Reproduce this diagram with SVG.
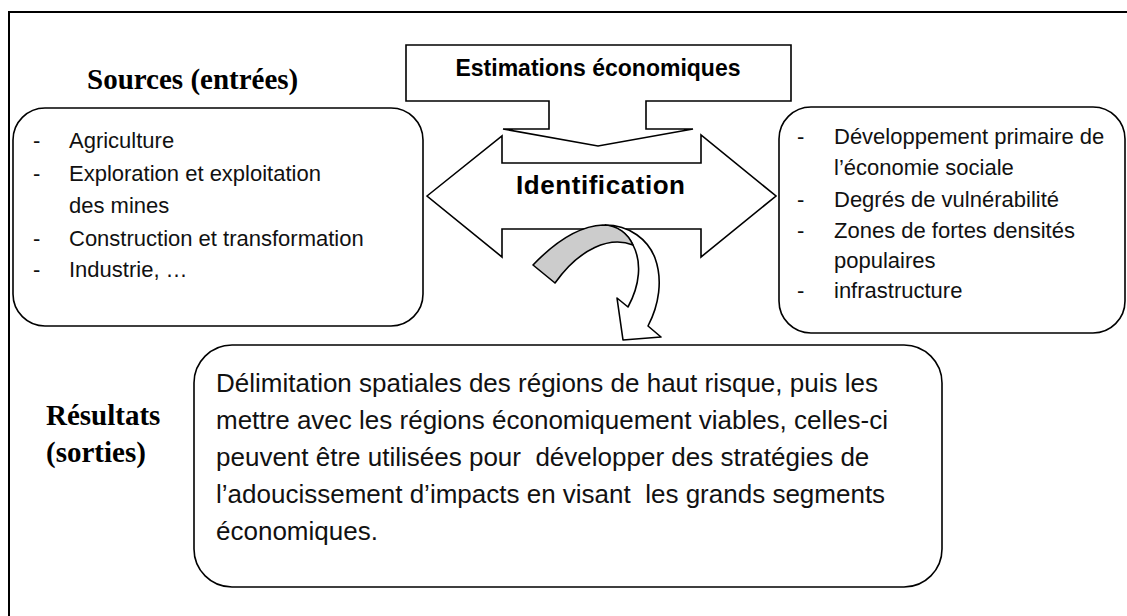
<svg xmlns="http://www.w3.org/2000/svg" width="1127" height="616" viewBox="0 0 1127 616">
<style>
.ln{fill:#fff;stroke:#000;stroke-width:1.6}
.t{font-family:"Liberation Sans",Arial,sans-serif;font-size:22px;fill:#111}
.tb{font-family:"Liberation Sans",Arial,sans-serif;font-weight:bold;fill:#000}
.ts{font-family:"Liberation Serif","Times New Roman",serif;font-weight:bold;font-size:29px;fill:#000}
.tl{font-family:"Liberation Sans",Arial,sans-serif;font-size:26px;fill:#111}
</style>
<rect id="frame" x="9" y="12" width="1130" height="620" fill="#fff" stroke="#000" stroke-width="2"/>

<g id="title-sources"><text class="ts" x="87" y="89">Sources (entrées)</text></g>
<g id="title-resultats">
<text class="ts" x="46" y="425">Résultats</text>
<text class="ts" x="46" y="462">(sorties)</text>
</g>

<g id="sources">
<rect class="ln" x="13" y="108" width="410" height="218" rx="32"/>
<text class="t" x="33" y="148">-</text><text class="t" x="69" y="148">Agriculture</text>
<text class="t" x="33" y="181">-</text><text class="t" x="69" y="181">Exploration et exploitation</text>
<text class="t" x="69" y="213">des mines</text>
<text class="t" x="33" y="246">-</text><text class="t" x="69" y="246">Construction et transformation</text>
<text class="t" x="33" y="277">-</text><text class="t" x="69" y="277">Industrie, …</text>
</g>

<g id="cibles">
<rect class="ln" x="779" y="107" width="346" height="226" rx="32"/>
<text class="t" x="797" y="144">-</text><text class="t" x="834" y="144">Développement primaire de</text>
<text class="t" x="834" y="175">l’économie sociale</text>
<text class="t" x="797" y="207">-</text><text class="t" x="834" y="207">Degrés de vulnérabilité</text>
<text class="t" x="797" y="238">-</text><text class="t" x="834" y="238">Zones de fortes densités</text>
<text class="t" x="834" y="268">populaires</text>
<text class="t" x="797" y="298">-</text><text class="t" x="834" y="298">infrastructure</text>
</g>

<g id="estimations">
<path class="ln" d="M406,45 H791 V101 H646 V129 H693 L598,146 L503,129 H549 V101 H406 Z"/>
<text class="tb" x="598" y="76" font-size="23" text-anchor="middle">Estimations économiques</text>
</g>

<g id="identification">
<path class="ln" d="M427,196 L502,136 V163 H701 V135 L776,196 L701,257 V229 H502 V257 Z"/>
<text class="tb" x="600.5" y="194" font-size="26" text-anchor="middle" textLength="169" lengthAdjust="spacing">Identification</text>
</g>

<g id="connectors">
<path class="ln" stroke-linejoin="round" d="M605,225 C630,225 648,240 655,258 C663,280 659,305 648,326 L661,337 L623,340 L617,298 L628,307 C640,285 642,262 633,245 C628,235 618,226 605,225 Z"/>
<path fill="#cccccc" stroke="#000" stroke-width="1.6" stroke-linejoin="round" d="M533,265 C555,242 580,226 603,225 C618,225 628,234 633,245 C610,236 580,248 555,283 Z"/>
</g>

<g id="resultats">
<rect class="ln" x="194" y="345" width="748" height="242" rx="38"/>
<text class="tl" x="216" y="392">Délimitation spatiales des régions de haut risque, puis les</text>
<text class="tl" x="216" y="429">mettre avec les régions économiquement viables, celles-ci</text>
<text class="tl" x="216" y="466" xml:space="preserve">peuvent être utilisées pour  développer des stratégies de</text>
<text class="tl" x="216" y="503" xml:space="preserve">l’adoucissement d’impacts en visant  les grands segments</text>
<text class="tl" x="216" y="540">économiques.</text>
</g>
</svg>
